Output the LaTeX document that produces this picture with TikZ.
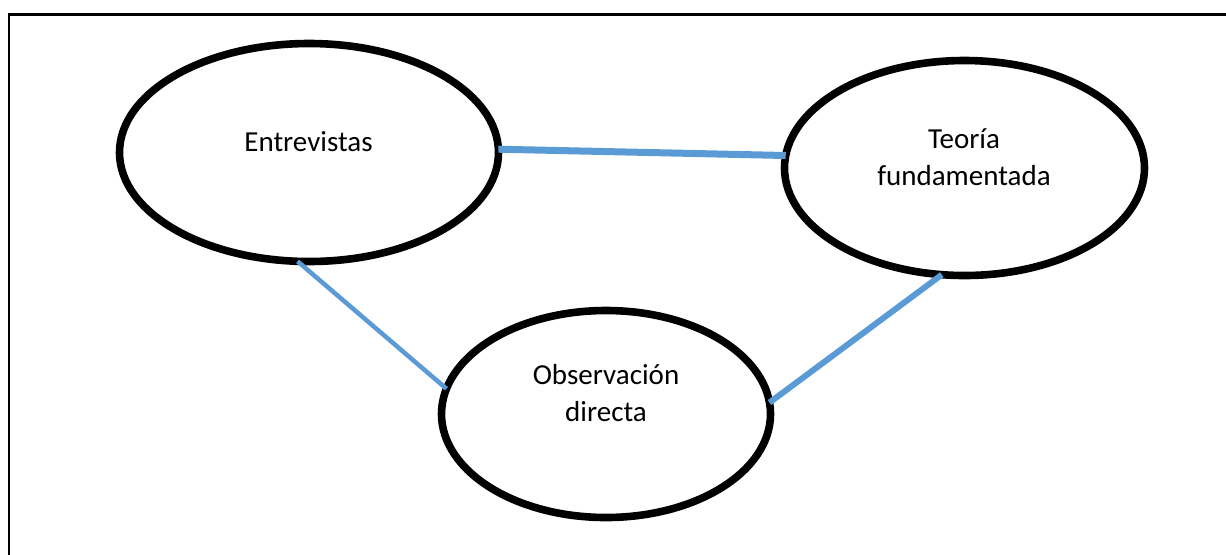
\documentclass[tikz,border=0pt]{standalone}
\usepackage{fontspec}
\setmainfont{Carlito}
\usetikzlibrary{shapes.geometric, positioning}
\definecolor{linkblue}{HTML}{5B9BD5}
\tikzset{
  oval/.style={ellipse, draw, line width=3.8pt, inner sep=0pt, outer sep=0pt},
  lbl/.style={align=center, font=\fontsize{14.5}{18.2}\selectfont},
  link/.style={draw=linkblue, line width=3pt},
}
\begin{document}
\begin{tikzpicture}[x=0.5pt, y=-0.5pt]
  \useasboundingbox (0,0) rectangle (1226,554);
  \draw[line width=1.1pt] (9,14.5) rectangle (1240,570);
  % the three ovals
  \node[oval, minimum width=189.5pt, minimum height=109pt] (ent) at (309,152.5) {};
  \node[oval, minimum width=180pt, minimum height=107.5pt] (teo) at (964.5,168) {};
  \node[oval, minimum width=164.5pt, minimum height=103.5pt] (obs) at (606,414) {};
  \node[lbl, anchor=base] (ent-txt) at (308.5,151) {Entrevistas};
  \node[lbl, anchor=base] (teo-txt) at (964,185) {Teoría\\fundamentada};
  \node[lbl, anchor=base] (obs-txt) at (606,421) {Observación\\directa};
  % links
  \draw[link, line width=3.5pt] (ent.1) -- (teo.176);
  \draw[link, line width=2.25pt] (ent.-96) -- (obs.171);
  \draw[link] (teo.-102) -- (obs.4);
\end{tikzpicture}
\end{document}
